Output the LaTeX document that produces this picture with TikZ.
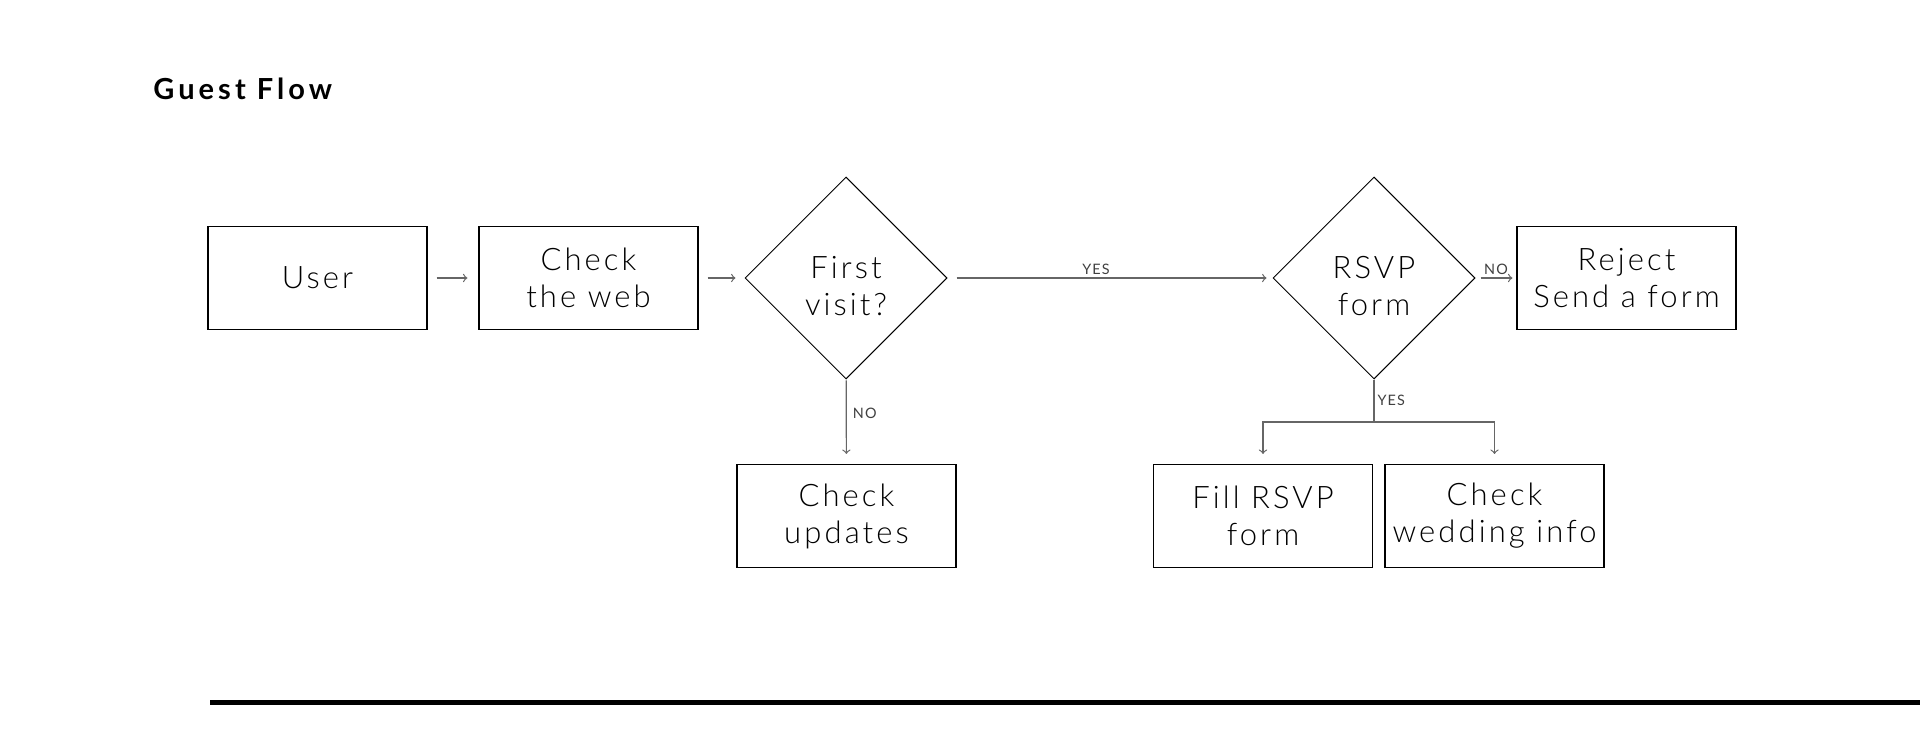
\documentclass[tikz,border=0pt]{standalone}
\usepackage{fontspec}
\setmainfont{Lato}[UprightFont=* Light, BoldFont=* Bold, LetterSpace=10]
\newfontfamily\titlefont{Lato}[LetterSpace=14]
\newfontfamily\tagfont{Lato}[LetterSpace=8]
\usetikzlibrary{shapes.geometric}

\tikzset{
  stepbox/.style={draw, line width=0.6pt, minimum width=109.5pt, minimum height=51.5pt,
    align=center, text=black, font=\fontsize{15.5}{18.5}\selectfont},
  choice/.style={draw, diamond, aspect=1, line width=0.5pt, minimum width=101pt,
    minimum height=101pt, inner sep=0pt, align=center, text=black, text height=38pt,
    font=\fontsize{15.5}{18.5}\selectfont},
  link/.style={->, draw=black!60, line width=0.6pt},
  tag/.style={font=\tagfont\fontsize{7.2}{9}\selectfont, text=black!75, inner sep=1.5pt}
}

\begin{document}
\begin{tikzpicture}[x=0.5pt, y=-0.5pt]
    \useasboundingbox (0,0) rectangle (1920,745);
    % title
    \node[anchor=base west, inner sep=0pt, font=\titlefont\bfseries\fontsize{14.5}{17}\selectfont] (title) at (153,99) {Guest Flow};
    % top row
    \node[stepbox] (user) at (317.5,278) {User};
    \node[stepbox] (web) at (588.5,278) {Check\\the web};
    \node[choice] (first) at (846,278) {First\\visit?};
    \node[choice] (rsvp) at (1374,278) {RSVP\\form};
    \node[stepbox] (reject) at (1626.5,278) {Reject\\Send a form};
    % bottom row
    \node[stepbox] (updates) at (846.5,516) {Check\\updates};
    \node[stepbox] (fill) at (1263,516) {Fill RSVP\\form};
    \node[stepbox] (info) at (1494.5,516) {Check\\wedding info};
    \coordinate (fork) at (1374,422);
    % links
    \draw[link, shorten <=4.5pt, shorten >=5.5pt] (user) -- (web);
    \draw[link, shorten <=4.5pt, shorten >=4.5pt] (web) -- (first);
    \draw[link, shorten <=4.5pt, shorten >=3pt] (first) -- (rsvp) node[tag, midway, above, xshift=-7pt] {YES};
    \draw[link, shorten <=2.5pt, shorten >=2pt] (rsvp) -- (reject) node[tag, midway, above] {NO};
    \draw[link, shorten <=0.5pt, shorten >=5pt] (first) -- (updates) node[tag, pos=0.4, right, xshift=1.5pt] {NO};
    \draw[draw=black!60, line width=0.6pt] (rsvp.south) -- (fork) node[tag, midway, right] {YES};
    \draw[link, shorten >=5pt] (fork) -| (fill);
    \draw[link, shorten >=5pt] (fork) -| (info);
    % rule at the bottom
    \draw[line width=2.5pt] (210,702) -- (1920,702);
\end{tikzpicture}
\end{document}
